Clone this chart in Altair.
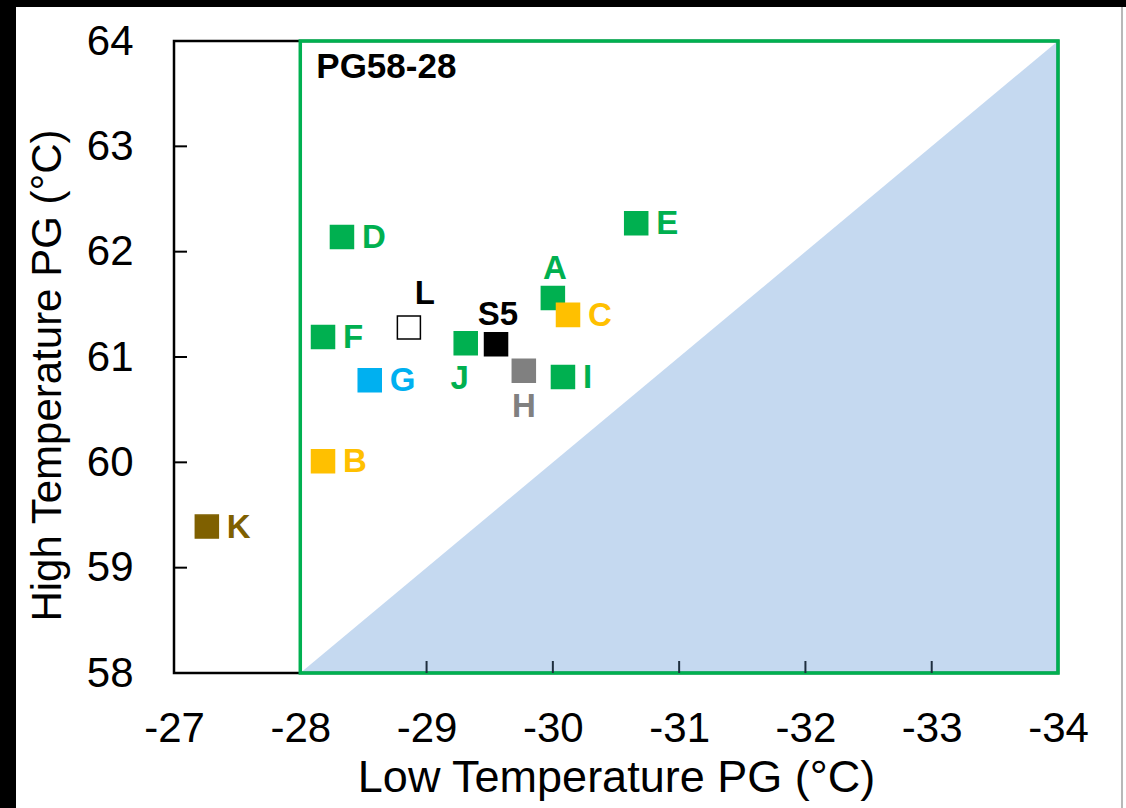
import altair as alt
import pandas as pd

# ---- data ----
labels = ["A", "B", "C", "D", "E", "F", "G", "H", "I", "J", "K", "L", "S5"]
low_pg = [-30.00, -28.18, -30.12, -28.33, -30.66, -28.18, -28.55, -29.77, -30.08, -29.31, -27.26, -28.86, -29.55]
high_pg = [61.56, 60.01, 61.40, 62.14, 62.27, 61.19, 60.78, 60.87, 60.81, 61.13, 59.39, 61.28, 61.12]
fill_colors = ["#00b050", "#ffc000", "#ffc000", "#00b050", "#00b050", "#00b050", "#00b0f0",
               "#808080", "#00b050", "#00b050", "#7f6000", "#ffffff", "#000000"]
stroke_colors = ["#00b050", "#ffc000", "#ffc000", "#00b050", "#00b050", "#00b050", "#00b0f0",
                 "#808080", "#00b050", "#00b050", "#7f6000", "#000000", "#000000"]
text_colors = ["#00b050", "#ffc000", "#ffc000", "#00b050", "#00b050", "#00b050", "#00b0f0",
               "#808080", "#00b050", "#00b050", "#7f6000", "#000000", "#000000"]
placement = ["above", "right", "right", "right", "right", "right", "right",
             "below", "right", "below_left", "right", "above_right", "above"]

x_ticks = [-27, -28, -29, -30, -31, -32, -33, -34]
y_ticks = [58, 59, 60, 61, 62, 63, 64]
inner_x_ticks = [-29, -30, -31, -32, -33]
inner_y_ticks = [59, 60, 61, 62, 63]
grade_label = "PG58-28"
grade_low = [-28, -34]
grade_high = [58, 64]

FONT = "Liberation Sans"
W, H = 884, 632
PAD_L, PAD_T, PAD_R, PAD_B = 174, 41, 68, 135

pts = pd.DataFrame({"label": labels, "low": low_pg, "high": high_pg,
                    "fill": fill_colors, "stroke": stroke_colors,
                    "tcolor": text_colors, "place": placement})

x_scale = alt.Scale(domain=[x_ticks[0], x_ticks[-1]], nice=False, zero=False)
y_scale = alt.Scale(domain=[y_ticks[0], y_ticks[-1]], nice=False, zero=False)

x_axis = alt.Axis(values=x_ticks, labelExpr="'' + datum.value", title="Low Temperature PG (°C)",
                  grid=False, ticks=False, tickSize=0, domain=False, zindex=1, labelFlush=False,
                  labelFont=FONT, labelFontSize=42, labelColor="black", labelPadding=35,
                  titleFont=FONT, titleFontSize=45, titleFontWeight="normal", titleColor="black",
                  titleBaseline="alphabetic", titleY=118)
y_axis = alt.Axis(values=y_ticks, labelExpr="'' + datum.value", title="High Temperature PG (°C)",
                  grid=False, ticks=False, tickSize=0, domain=False, zindex=1, labelFlush=False,
                  labelFont=FONT, labelFontSize=42, labelColor="black", labelPadding=41,
                  titleFont=FONT, titleFontSize=42, titleFontWeight="normal", titleColor="black",
                  titleBaseline="alphabetic", titleAngle=-90, titleX=-114, titleY=334,
                  titleAlign="center")

X = alt.X("low:Q", scale=x_scale, axis=x_axis)
Y = alt.Y("high:Q", scale=y_scale, axis=y_axis)

one = alt.Data(values=[{"a": 1}])

# white page area (the reference has black strips at the top and left edges)
page = alt.Chart(one).mark_rect(color="white").encode(
    x=alt.value(16 - PAD_L), x2=alt.value(1126 - PAD_L),
    y=alt.value(7 - PAD_T), y2=alt.value(808 - PAD_T))
edge = alt.Chart(one).mark_rule(color="#a0a0a0", strokeWidth=1.5).encode(
    x=alt.value(1122 - PAD_L), y=alt.value(7 - PAD_T), y2=alt.value(808 - PAD_T))

tri = pd.DataFrame({"low": grade_low, "high": grade_high})
triangle = alt.Chart(tri).mark_area(color="#c5d9f0", orient="vertical").encode(
    x=X, y=Y, y2=alt.datum(grade_high[0]))

frame = alt.Chart(one).mark_rect(fill=None, stroke="black", strokeWidth=2.5).encode(
    x=alt.value(0), x2=alt.value(W), y=alt.value(0), y2=alt.value(H))

box = pd.DataFrame({"low": [grade_low[0]], "low2": [grade_low[1]],
                    "high": [grade_high[0]], "high2": [grade_high[1]]})
green_box = alt.Chart(box).mark_rect(fill=None, stroke="#00b050", strokeWidth=3.5).encode(
    x=X, x2="low2:Q", y=Y, y2="high2:Q")

yt = alt.Chart(pd.DataFrame({"high": inner_y_ticks})).mark_rule(color="black", strokeWidth=2).encode(
    y=Y, x=alt.value(0), x2=alt.value(13))
xt = alt.Chart(pd.DataFrame({"low": inner_x_ticks})).mark_rule(color="#1f2f3f", strokeWidth=2).encode(
    x=X, y=alt.value(H - 12), y2=alt.value(H))

squares = alt.Chart(pts).mark_point(shape="square", filled=True, size=530, strokeWidth=1.5, opacity=1).encode(
    x=X, y=Y,
    fill=alt.Fill("fill:N", scale=None),
    stroke=alt.Stroke("stroke:N", scale=None))

place_style = {
    "right": dict(dx=20, dy=1, align="left"),
    "above": dict(dx=2, dy=-29, align="center"),
    "below": dict(dx=0, dy=36, align="center"),
    "below_left": dict(dx=-6, dy=36, align="center"),
    "above_right": dict(dx=16, dy=-34, align="center"),
}
text_layers = []
for p, st in place_style.items():
    text_layers.append(
        alt.Chart(pts).transform_filter(alt.datum.place == p).mark_text(
            font=FONT, fontSize=33, fontWeight="bold", baseline="middle", **st
        ).encode(x=X, y=Y, text="label:N", color=alt.Color("tcolor:N", scale=None))
    )

grade_text = alt.Chart(one).mark_text(
    font=FONT, fontSize=35, fontWeight="bold", color="black", align="left",
    baseline="alphabetic", dx=16, dy=37
).encode(x=alt.datum(grade_low[0]), y=alt.datum(grade_high[1]), text=alt.value(grade_label))

chart = alt.layer(
    page, edge, triangle, frame, green_box, yt, xt, squares, *text_layers, grade_text
).properties(
    width=W, height=H,
    background="black",
    padding={"left": PAD_L, "top": PAD_T, "right": PAD_R, "bottom": PAD_B},
    autosize=alt.AutoSizeParams(type="none"),
).configure_view(strokeWidth=0)

chart.save("out.html", embed_options={"renderer": "svg", "actions": False})
